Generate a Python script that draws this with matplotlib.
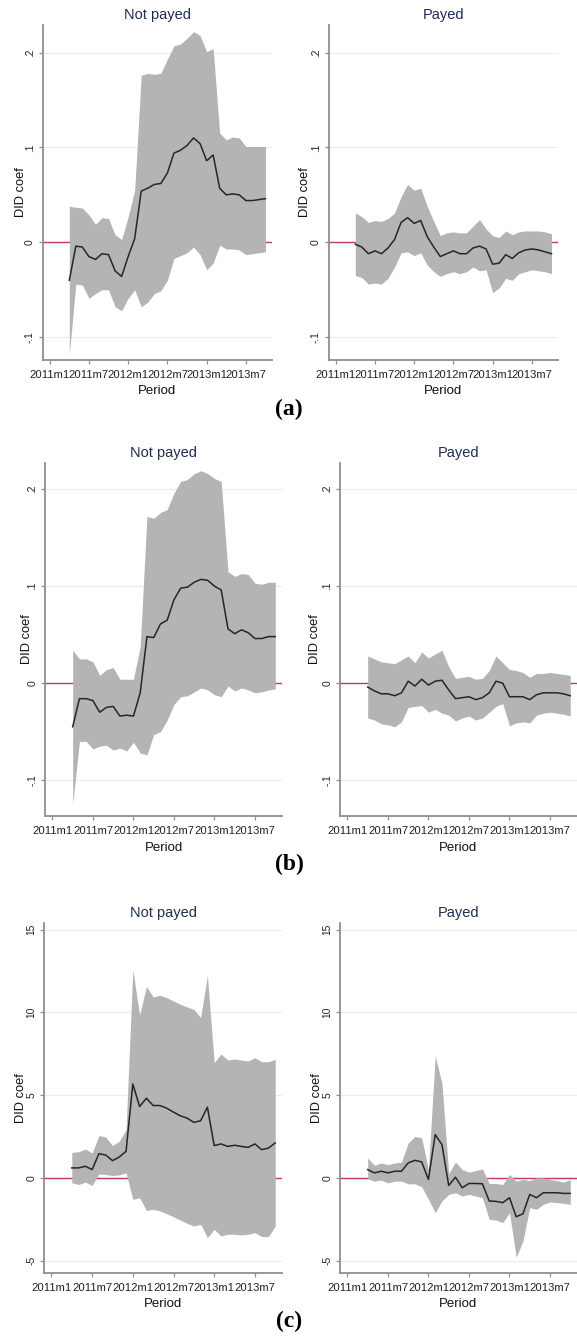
import numpy as np
import matplotlib
matplotlib.use('Agg')
import matplotlib.pyplot as plt

plt.rcParams['font.family'] = ['Liberation Sans', 'DejaVu Sans']

# months counted from 2011m1 (0) ; estimates run 2011m4 .. 2013m10
month_idx = np.arange(3, 34)
tick_months = [0, 6, 12, 18, 24, 30]
tick_labels = ['2011m1', '2011m7', '2012m1', '2012m7', '2013m1', '2013m7']

# (a) not payed
a_np_coef = [-0.040, -0.004, -0.005, -0.015, -0.018, -0.012, -0.013, -0.030, -0.036, -0.015,
             0.004, 0.054, 0.057, 0.061, 0.062, 0.073, 0.094, 0.097, 0.102, 0.110,
             0.104, 0.086, 0.092, 0.057, 0.050, 0.051, 0.050, 0.044, 0.044, 0.045, 0.046]
a_np_hi = [0.038, 0.037, 0.036, 0.029, 0.019, 0.026, 0.025, 0.008, 0.003, 0.027,
           0.055, 0.176, 0.178, 0.177, 0.178, 0.193, 0.207, 0.209, 0.215, 0.222,
           0.218, 0.201, 0.204, 0.115, 0.108, 0.111, 0.110, 0.101, 0.101, 0.101, 0.101]
a_np_lo = [-0.118, -0.044, -0.045, -0.059, -0.054, -0.050, -0.050, -0.068, -0.072, -0.059,
           -0.050, -0.068, -0.063, -0.054, -0.051, -0.040, -0.017, -0.014, -0.011, -0.005,
           -0.013, -0.029, -0.022, -0.003, -0.007, -0.007, -0.008, -0.013, -0.012, -0.011, -0.010]
# (a) payed
a_p_coef = [-0.002, -0.005, -0.012, -0.009, -0.012, -0.006, 0.003, 0.021, 0.026, 0.020,
            0.023, 0.006, -0.005, -0.015, -0.012, -0.009, -0.012, -0.012, -0.006, -0.004,
            -0.007, -0.023, -0.022, -0.013, -0.017, -0.011, -0.008, -0.007, -0.008, -0.010, -0.012]
a_p_hi = [0.031, 0.027, 0.021, 0.023, 0.022, 0.025, 0.031, 0.048, 0.061, 0.055,
          0.057, 0.038, 0.022, 0.007, 0.010, 0.011, 0.010, 0.010, 0.017, 0.024,
          0.014, 0.007, 0.005, 0.012, 0.008, 0.011, 0.012, 0.012, 0.012, 0.011, 0.009]
a_p_lo = [-0.035, -0.037, -0.044, -0.043, -0.044, -0.038, -0.026, -0.011, -0.010, -0.014,
          -0.011, -0.024, -0.031, -0.036, -0.033, -0.031, -0.033, -0.031, -0.026, -0.030,
          -0.029, -0.053, -0.048, -0.038, -0.040, -0.033, -0.031, -0.029, -0.030, -0.031, -0.033]

# (b) not payed
b_np_coef = [-0.045, -0.016, -0.016, -0.018, -0.030, -0.025, -0.024, -0.034, -0.033, -0.034,
             -0.010, 0.048, 0.047, 0.061, 0.065, 0.086, 0.098, 0.099, 0.104, 0.107,
             0.106, 0.100, 0.096, 0.056, 0.051, 0.055, 0.052, 0.046, 0.046, 0.048, 0.048]
b_np_hi = [0.034, 0.025, 0.025, 0.022, 0.008, 0.014, 0.016, 0.004, 0.004, 0.004,
           0.038, 0.172, 0.170, 0.176, 0.179, 0.196, 0.208, 0.210, 0.216, 0.219,
           0.216, 0.211, 0.208, 0.115, 0.110, 0.113, 0.112, 0.103, 0.102, 0.104, 0.104]
b_np_lo = [-0.125, -0.060, -0.060, -0.068, -0.065, -0.064, -0.069, -0.067, -0.070, -0.061,
           -0.072, -0.074, -0.053, -0.050, -0.038, -0.022, -0.014, -0.013, -0.009, -0.005,
           -0.007, -0.012, -0.014, -0.003, -0.008, -0.005, -0.007, -0.010, -0.009, -0.007, -0.006]
# (b) payed
b_p_coef = [-0.004, -0.008, -0.011, -0.011, -0.013, -0.010, 0.002, -0.003, 0.004, -0.002,
            0.002, 0.003, -0.007, -0.016, -0.015, -0.014, -0.017, -0.015, -0.010, 0.002,
            0.000, -0.014, -0.014, -0.014, -0.017, -0.012, -0.010, -0.010, -0.010, -0.011, -0.013]
b_p_hi = [0.028, 0.025, 0.022, 0.021, 0.020, 0.024, 0.028, 0.021, 0.032, 0.026,
          0.030, 0.034, 0.017, 0.005, 0.006, 0.007, 0.004, 0.005, 0.013, 0.028,
          0.021, 0.014, 0.013, 0.011, 0.006, 0.010, 0.010, 0.011, 0.010, 0.009, 0.008]
b_p_lo = [-0.036, -0.038, -0.042, -0.043, -0.045, -0.040, -0.025, -0.024, -0.023, -0.030,
          -0.027, -0.031, -0.033, -0.039, -0.036, -0.034, -0.038, -0.036, -0.030, -0.024,
          -0.021, -0.044, -0.041, -0.040, -0.041, -0.033, -0.031, -0.030, -0.031, -0.032, -0.034]

# (c) not payed
c_np_coef = [0.60, 0.60, 0.70, 0.50, 1.46, 1.38, 1.04, 1.26, 1.60, 5.67,
             4.31, 4.81, 4.37, 4.37, 4.21, 3.97, 3.75, 3.61, 3.35, 3.45,
             4.27, 1.95, 2.05, 1.90, 1.97, 1.90, 1.84, 2.05, 1.70, 1.80, 2.11]
c_np_hi = [1.54, 1.58, 1.74, 1.50, 2.55, 2.47, 1.95, 2.21, 2.91, 12.57,
           9.83, 11.57, 10.93, 11.03, 10.89, 10.69, 10.49, 10.33, 10.17, 9.69,
           12.23, 6.96, 7.48, 7.12, 7.18, 7.12, 7.06, 7.26, 7.02, 7.02, 7.16]
c_np_lo = [-0.30, -0.40, -0.26, -0.46, 0.24, 0.20, 0.14, 0.18, 0.30, -1.30,
           -1.20, -1.97, -1.90, -2.00, -2.17, -2.35, -2.55, -2.75, -2.91, -2.81,
           -3.61, -3.11, -3.51, -3.41, -3.41, -3.45, -3.41, -3.31, -3.55, -3.55, -2.91]
# (c) payed
c_p_coef = [0.50, 0.30, 0.40, 0.30, 0.40, 0.40, 0.90, 1.06, 0.96, -0.10,
            2.61, 2.01, -0.46, 0.04, -0.60, -0.34, -0.34, -0.36, -1.40, -1.42,
            -1.50, -1.20, -2.35, -2.17, -1.00, -1.20, -0.90, -0.90, -0.90, -0.94, -0.94]
c_p_hi = [1.20, 0.76, 0.90, 0.80, 0.90, 0.94, 2.11, 2.51, 2.41, 0.50,
          7.36, 5.71, 0.26, 0.96, 0.50, 0.34, 0.44, 0.54, -0.34, -0.34,
          -0.40, 0.20, -0.20, -0.10, -0.16, 0.00, 0.00, -0.10, -0.16, -0.26, -0.10]
c_p_lo = [-0.06, -0.20, -0.14, -0.30, -0.20, -0.20, -0.36, -0.36, -0.54, -1.30,
          -2.11, -1.40, -1.00, -0.90, -1.10, -1.00, -1.10, -1.20, -2.51, -2.55,
          -2.71, -2.11, -4.80, -3.81, -1.80, -1.90, -1.60, -1.46, -1.50, -1.54, -1.60]

W, H = 577, 1338
BAND = '#b4b4b4'
ZERO = '#c8385a'
AXIS = '#8f8f8f'
TITLE = '#1f2d50'

fig = plt.figure(figsize=(W / 100, H / 100), dpi=100)


def add_panel(box, coef, lo, hi, title, yticks, ylabels, ylim, ylab_x, period_top):
    """box is (left, top, right, bottom) in pixels"""
    x0, y0, x1, y1 = box
    ax = fig.add_axes([x0 / W, 1 - y1 / H, (x1 - x0) / W, (y1 - y0) / H])
    ax.set_xlim(-1.1, 34)
    ax.set_ylim(*ylim)

    for v in yticks:
        ax.axhline(v, color='#ececec', lw=0.8, zorder=0)
    ax.axhline(0, color=ZERO, lw=1.0, zorder=1)
    ax.fill_between(month_idx, lo, hi, color=BAND, lw=0, zorder=2)
    ax.plot(month_idx, coef, color='#262626', lw=1.1, zorder=3)

    ax.set_xticks(tick_months)
    ax.set_xticklabels(tick_labels, fontsize=8.1, color='#222222')
    ax.set_yticks(yticks)
    ax.set_yticklabels(ylabels, fontsize=7.4, color='#222222',
                       rotation=90, va='center')
    ax.tick_params(axis='both', length=3, width=0.9, color=AXIS, pad=2.5)
    ax.tick_params(axis='x', pad=4.5)

    for side in ('top', 'right'):
        ax.spines[side].set_visible(False)
    for side in ('left', 'bottom'):
        ax.spines[side].set_color(AXIS)
        ax.spines[side].set_linewidth(1.3)

    # ylabel anchor is its right edge, label is ~11px thick
    ax.set_ylabel('DID coef', fontsize=9.3, color='#111111')
    ax.yaxis.set_label_coords((ylab_x + 8.5 - x0) / (x1 - x0), 0.5)
    ax.set_xlabel('Period', fontsize=9.5, color='#111111')
    ax.xaxis.set_label_coords(0.5, -(period_top - y1) / (y1 - y0))

    fig.text((x0 + x1) / 2 / W, 1 - (y0 - 10.5) / H, title,
             fontsize=10.5, color=TITLE, ha='center', va='center')
    return ax


ticks_ab = [-0.1, 0, 0.1, 0.2]
labels_ab = ['-.1', '0', '.1', '.2']
ticks_c = [-5, 0, 5, 10, 15]
labels_c = ['-5', '0', '5', '10', '15']

# row (a)
add_panel((42.5, 25, 272, 360), a_np_coef, a_np_lo, a_np_hi, 'Not payed',
          ticks_ab, labels_ab, (-0.124, 0.229), 18, 385)
add_panel((328.5, 25, 558, 360), a_p_coef, a_p_lo, a_p_hi, 'Payed',
          ticks_ab, labels_ab, (-0.124, 0.229), 303, 385)
# row (b)
add_panel((45, 463, 282, 816), b_np_coef, b_np_lo, b_np_hi, 'Not payed',
          ticks_ab, labels_ab, (-0.137, 0.227), 25, 842)
add_panel((340, 463, 577, 816), b_p_coef, b_p_lo, b_p_hi, 'Payed',
          ticks_ab, labels_ab, (-0.137, 0.227), 313, 842)
# row (c)
add_panel((44, 923, 282, 1273), c_np_coef, c_np_lo, c_np_hi, 'Not payed',
          ticks_c, labels_c, (-5.75, 15.4), 19, 1298)
add_panel((340, 923, 577, 1273), c_p_coef, c_p_lo, c_p_hi, 'Payed',
          ticks_c, labels_c, (-5.75, 15.4), 315, 1298)

for tag, yc in (('(a)', 409), ('(b)', 864), ('(c)', 1321)):
    fig.text(289 / W, 1 - yc / H, tag, fontsize=17, fontweight='bold',
             family='Liberation Serif', ha='center', va='center')

fig.savefig('out.png', dpi=100)
